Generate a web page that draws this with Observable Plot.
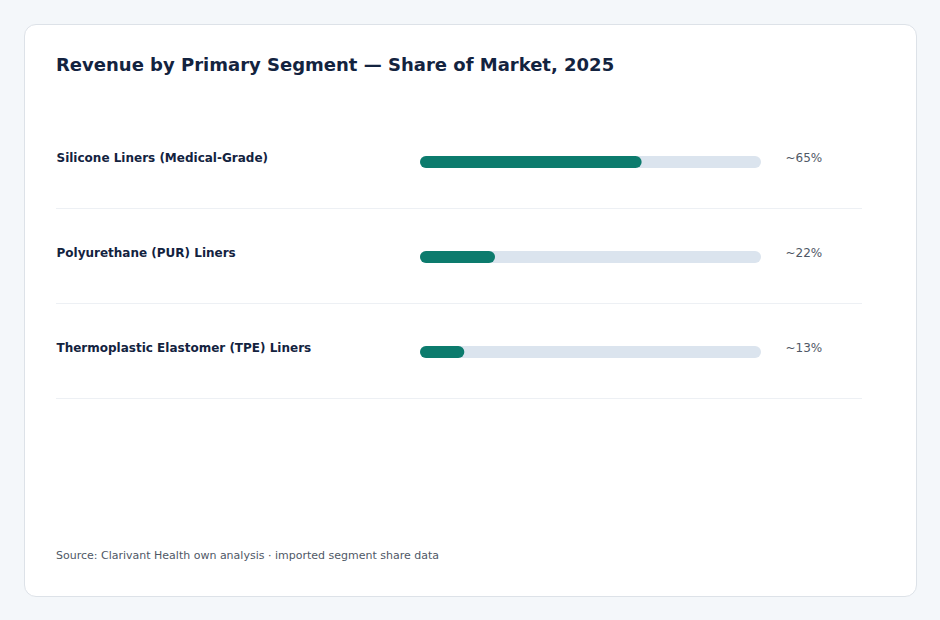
<!DOCTYPE html>
<html>
<head>
<meta charset="utf-8">
<script src="https://cdn.jsdelivr.net/npm/d3@7"></script>
<script src="https://cdn.jsdelivr.net/npm/@observablehq/plot@0.6"></script>
<style>
  html, body { margin: 0; padding: 0; }
  body {
    width: 940px; height: 620px; background: #f4f7fa;
    font-family: "DejaVu Sans", sans-serif; position: relative; overflow: hidden;
  }
  .card {
    position: absolute; left: 24px; top: 24px; width: 893px; height: 573px;
    box-sizing: border-box; background: #fff; border: 1px solid #dde2e8; border-radius: 12px;
  }
  .title {
    position: absolute; left: 56px; top: 54px; margin: 0;
    font-size: 18px; line-height: 1.2; font-weight: bold; color: #13233f; white-space: nowrap;
  }
  #chart { position: absolute; left: 56px; top: 113px; }
  .source {
    position: absolute; left: 56px; top: 549px; margin: 0;
    font-size: 11px; line-height: 1.2; color: #4f5866; white-space: nowrap;
  }
</style>
</head>
<body>
<div class="card"></div>
<h1 class="title">Revenue by Primary Segment — Share of Market, 2025</h1>
<div id="chart"></div>
<p class="source">Source: Clarivant Health own analysis · imported segment share data</p>
<script>
// Segment names and their approximate share of market (%)
const segments = [
  "Silicone Liners (Medical-Grade)",
  "Polyurethane (PUR) Liners",
  "Thermoplastic Elastomer (TPE) Liners"
];
const shares = [65, 22, 13];
const shareLabels = ["~65%", "~22%", "~13%"];

const rows = segments.map((segment, i) => ({segment, share: shares[i], label: shareLabels[i]}));

// Layout constants
const W = 806;
const ROW_H = 95;
const BAR_H = 12;
const PLOT_H = ROW_H * segments.length;
const TRACK_START = 364, TRACK_END = 705;
const insetTop = (ROW_H - BAR_H) / 2 + 1.5;
const insetBottom = ROW_H - BAR_H - insetTop;

const chart = Plot.plot({
  width: W,
  height: PLOT_H + 5,
  marginTop: 0, marginBottom: 5, marginLeft: 0, marginRight: 0,
  style: {fontFamily: "DejaVu Sans, sans-serif", background: "transparent", overflow: "visible"},
  x: {domain: [0, 100], range: [TRACK_START, TRACK_END], axis: null},
  y: {domain: segments, range: [0, PLOT_H], padding: 0, axis: null},
  marks: [
    // row separators at the bottom of each band
    Plot.ruleY(rows, {y: "segment", dy: ROW_H / 2, stroke: "#edf0f4", strokeWidth: 1}),
    // full-width track
    Plot.barX(rows, {y: "segment", x1: 0, x2: 100, fill: "#dbe4ee", rx: BAR_H / 2, insetTop, insetBottom}),
    // share fill
    Plot.barX(rows, {y: "segment", x1: 0, x2: "share", fill: "#0c7b6d", rx: BAR_H / 2, insetTop, insetBottom}),
    // segment names
    Plot.text(rows, {
      y: "segment", text: "segment", frameAnchor: "left", textAnchor: "start",
      dy: -2.5, fontSize: 12, fontWeight: "bold", fill: "#13233f"
    }),
    // share labels to the right of the track
    Plot.text(rows, {
      y: "segment", x: () => 100, text: "label", textAnchor: "start",
      dx: 24, dy: -2.5, fontSize: 12, fill: "#4f5866"
    })
  ]
});
document.getElementById("chart").appendChild(chart);
</script>
</body>
</html>
